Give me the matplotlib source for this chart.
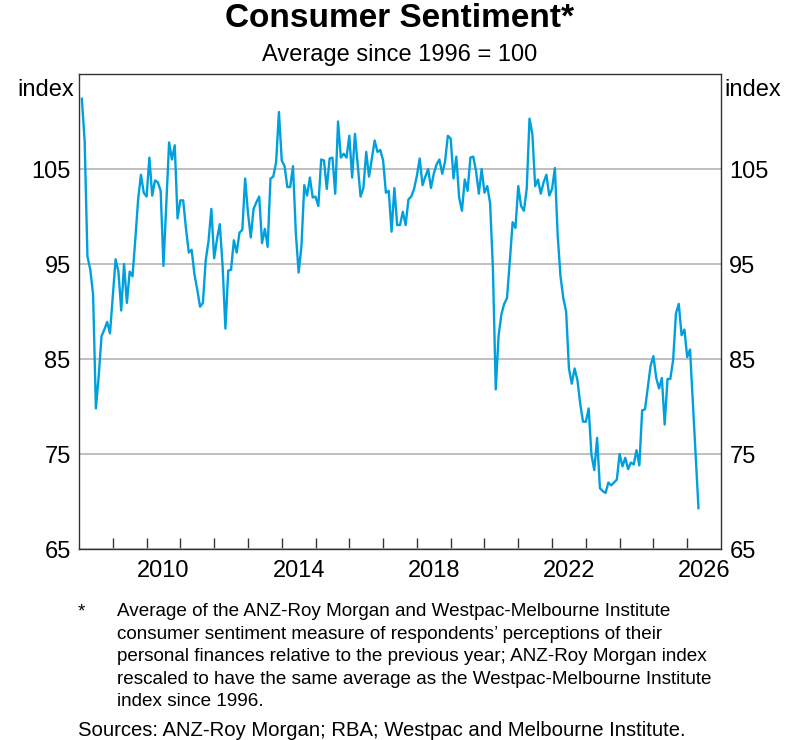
import matplotlib
matplotlib.use("Agg")
import matplotlib.pyplot as plt
import numpy as np
import pandas as pd

plt.rcParams['font.family'] = ['Liberation Sans', 'DejaVu Sans']

# monthly index, Jan 2008 onwards
sentiment = [
    112.4, 108.0, 95.8, 94.4, 91.8, 79.8, 83.2, 87.4, 88.1, 88.9, 87.7, 91.6,
    95.5, 94.2, 90.1, 95.0, 90.9, 94.2, 93.7, 97.6, 101.8, 104.4, 102.5, 102.1,
    106.2, 102.2, 103.8, 103.6, 102.7, 94.8, 101.3, 107.8, 106.0, 107.5, 99.8, 101.7,
    101.7, 98.7, 96.2, 96.5, 93.9, 92.3, 90.5, 90.9, 95.4, 97.4, 100.8, 95.6,
    97.6, 99.2, 94.8, 88.2, 94.3, 94.4, 97.5, 96.2, 98.3, 98.6, 104.0, 100.4,
    97.8, 100.8, 101.5, 102.1, 97.2, 98.7, 96.8, 104.0, 104.2, 105.7, 111.0, 105.9,
    105.3, 103.1, 103.1, 105.3, 98.3, 94.1, 96.9, 103.3, 102.2, 104.1, 102.0, 102.1,
    101.1, 106.0, 105.9, 102.9, 106.1, 106.2, 102.4, 110.0, 106.2, 106.6, 106.2, 108.5,
    104.1, 108.7, 105.4, 102.1, 103.0, 106.8, 104.2, 106.1, 108.0, 106.8, 107.0, 105.9,
    102.5, 102.7, 98.4, 103.0, 99.1, 99.1, 100.5, 99.1, 101.8, 102.1, 102.9, 104.3,
    106.1, 103.3, 104.2, 105.0, 103.0, 104.5, 105.5, 106.0, 104.5, 105.8, 108.5, 108.2,
    104.0, 106.3, 102.0, 100.6, 103.9, 102.7, 106.2, 106.3, 104.8, 102.4, 105.0, 102.5,
    103.2, 101.4, 94.5, 81.8, 87.4, 89.7, 90.8, 91.4, 95.3, 99.4, 98.8, 103.2,
    101.1, 100.6, 102.9, 110.3, 108.7, 103.2, 103.9, 102.4, 103.6, 104.4, 102.2, 102.9,
    105.1, 98.0, 93.7, 91.4, 90.0, 84.0, 82.4, 84.0, 82.8, 80.3, 78.4, 78.4,
    79.8, 74.9, 73.3, 76.7, 71.4, 71.1, 70.9, 72.0, 71.7, 72.0, 72.3, 75.0,
    73.7, 74.6, 73.4, 74.1, 73.9, 75.4, 73.8, 79.6, 79.7, 82.0, 84.3, 85.3,
    83.0, 81.9, 83.0, 78.1, 82.9, 82.9, 84.9, 89.8, 90.8, 87.5, 88.1, 85.2,
    86.0, 80.5, 75.0, 69.3,
]
year_labels = [2010, 2014, 2018, 2022, 2026]
y_ticks = [65, 75, 85, 95, 105]

dates = pd.date_range("2008-01-31", periods=len(sentiment), freq="ME")
x = dates.year + dates.month / 12.0

fig = plt.figure(figsize=(8, 7.4), dpi=100)
ax = fig.add_axes([0.09875, 0.2581, 0.8025, 0.6419])

ax.plot(x, sentiment, color='#00a0df', lw=1.7, zorder=3)

ax.set_xlim(2008, 2027)
ax.set_ylim(65, 115)

# year boundary ticks, labels centred on the year
ax.set_xticks(np.arange(2009, 2027), minor=False)
ax.set_xticklabels([])
ax.tick_params(axis='x', which='major', direction='in', length=8, width=1, color='#333333')
ax.set_xticks([y + 0.5 for y in year_labels], minor=True)
ax.set_xticklabels([str(y) for y in year_labels], minor=True)
ax.tick_params(axis='x', which='minor', length=0, labelsize=17, pad=8)

ax.set_yticks(y_ticks)
ax.tick_params(axis='y', which='both', length=0, labelsize=17, pad=6,
               left=True, right=True, labelleft=True, labelright=True)
ax.grid(axis='y', color='#b4b4b4', lw=1.2)
ax.set_axisbelow(True)
for s in ax.spines.values():
    s.set_color('#333333')
    s.set_linewidth(1.0)

fig.text(0.022, 0.879, "index", fontsize=17, ha='left', va='center')
fig.text(0.977, 0.879, "index", fontsize=17, ha='right', va='center')

fig.text(0.5, 0.975, "Consumer Sentiment*", fontsize=24, fontweight='bold',
         ha='center', va='center')
fig.text(0.5, 0.925, "Average since 1996 = 100", fontsize=17, ha='center', va='center')

note = ("Average of the ANZ-Roy Morgan and Westpac-Melbourne Institute\n"
        "consumer sentiment measure of respondents\u2019 perceptions of their\n"
        "personal finances relative to the previous year; ANZ-Roy Morgan index\n"
        "rescaled to have the same average as the Westpac-Melbourne Institute\n"
        "index since 1996.")
fig.text(0.097, 0.185, "*", fontsize=13.6, ha='left', va='top')
fig.text(0.146, 0.185, note, fontsize=13.6, ha='left', va='top', linespacing=1.43)
fig.text(0.097, 0.0135, "Sources: ANZ-Roy Morgan; RBA; Westpac and Melbourne Institute.",
         fontsize=14.6, ha='left', va='center')

fig.savefig("out.png", dpi=100)
